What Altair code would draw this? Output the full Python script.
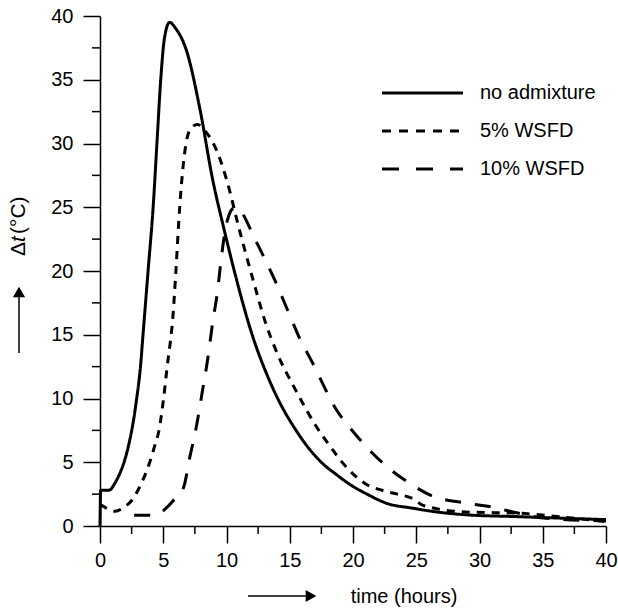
import altair as alt
import pandas as pd

# ---- data ----
series_names = ["no admixture", "5% WSFD", "10% WSFD"]

t_none = [0.0, 0.05, 0.7, 1.2, 1.6, 1.9, 2.3, 2.6, 2.9, 3.2, 3.4, 3.8, 4.2, 4.5, 4.8,
          5.1, 5.5, 6.0, 6.8, 7.9, 8.9, 9.8, 10.8, 11.9, 13.4, 14.2, 15.5, 16.5, 17.6,
          18.6, 19.7, 21.3, 22.6, 24.7, 26.8, 29.4, 32.5, 35.4, 40.0]
v_none = [0.0, 2.8, 2.8, 3.4, 4.2, 5.0, 6.5, 8.0, 10.0, 12.5, 15.0, 20.0, 25.0, 30.0, 35.0,
          38.3, 39.5, 39.0, 37.4, 32.7, 27.2, 23.3, 19.3, 15.4, 11.4, 9.7, 7.5, 6.1, 4.9,
          4.1, 3.3, 2.4, 1.8, 1.4, 1.08, 0.85, 0.75, 0.65, 0.5]

t_5 = [0.0, 0.5, 1.2, 1.8, 2.5, 3.2, 3.9, 4.3, 4.7, 5.0, 5.3, 5.8, 6.0, 6.3, 6.8, 7.2,
       7.7, 8.3, 9.2, 10.0, 11.0, 12.1, 13.1, 13.9, 15.5, 17.1, 18.3, 19.4, 21.0, 22.3,
       23.5, 24.6, 25.6, 28.9, 33.2, 36.5, 40.0]
v_5 = [1.7, 1.4, 1.15, 1.4, 2.0, 3.2, 4.9, 6.2, 7.7, 9.8, 12.4, 16.9, 20.0, 25.0, 30.0, 31.2,
       31.5, 31.0, 29.5, 27.2, 23.3, 19.3, 15.9, 13.8, 10.6, 7.8, 6.1, 4.7, 3.3, 2.8,
       2.5, 2.2, 1.6, 1.1, 1.0, 0.7, 0.35]

t_10 = [2.7, 4.4, 5.0, 5.8, 6.6, 7.1, 7.6, 8.1, 8.5, 8.9, 9.3, 9.6, 9.9, 10.2, 10.5,
        10.8, 11.2, 12.2, 13.1, 13.9, 14.8, 15.7, 16.8, 18.7, 20.1, 21.5, 23.0, 24.4,
        26.4, 28.6, 30.9, 33.1, 35.3, 40.0]
v_10 = [0.85, 0.85, 1.2, 2.0, 3.0, 5.4, 7.7, 10.6, 13.0, 15.9, 18.5, 21.1, 23.2, 24.4, 24.9,
        25.0, 24.6, 22.6, 20.8, 19.1, 17.0, 14.9, 12.8, 9.1, 7.3, 5.75, 4.4, 3.4,
        2.3, 1.85, 1.5, 1.0, 0.6, 0.4]

x_major = [0, 5, 10, 15, 20, 25, 30, 35, 40]
y_major = [0, 5, 10, 15, 20, 25, 30, 35, 40]
x_minor = [2.5, 7.5, 12.5, 17.5, 22.5, 27.5, 32.5, 37.5]
y_minor = [2.5, 7.5, 12.5, 17.5, 22.5, 27.5, 32.5, 37.5]

# ---- build table ----
rows = []
for name, ts, vs in zip(series_names, [t_none, t_5, t_10], [v_none, v_5, v_10]):
    for i, (t, v) in enumerate(zip(ts, vs)):
        rows.append({"series": name, "t": t, "v": v, "i": i})
df = pd.DataFrame(rows)

W, H = 506, 510
FONT = "Liberation Sans"
dash_plot = [[1, 0], [8, 7], [16, 14]]
dash_legend = [[1, 0], [9, 8], [17, 17]]

xs = alt.Scale(domain=[0, 40], nice=False, zero=False)
ys = alt.Scale(domain=[0, 40], nice=False, zero=False)

axis_common = dict(
    title=None, grid=False, domainColor="black", domainWidth=1.5,
    tickColor="black", tickWidth=1.5, tickSize=17, labelFontSize=20,
    labelColor="black", labelFont=FONT, labelFlush=False,
)
x_axis = alt.Axis(values=x_major, labelPadding=7, **axis_common)
y_axis = alt.Axis(values=y_major, labelPadding=10, **axis_common)

lines = alt.Chart(df).mark_line(color="black", strokeWidth=3, interpolate="monotone").encode(
    x=alt.X("t:Q", scale=xs, axis=x_axis),
    y=alt.Y("v:Q", scale=ys, axis=y_axis),
    strokeDash=alt.StrokeDash("series:N",
                              scale=alt.Scale(domain=series_names, range=dash_plot),
                              legend=None),
    detail="series:N",
    order=alt.Order("i:Q"),
)

minor_y = alt.Chart(pd.DataFrame({"v": y_minor})).mark_rule(color="black", strokeWidth=1.5).encode(
    y=alt.Y("v:Q", scale=ys, axis=y_axis), x=alt.value(-8), x2=alt.value(0))
minor_x = alt.Chart(pd.DataFrame({"t": x_minor})).mark_rule(color="black", strokeWidth=1.5).encode(
    x=alt.X("t:Q", scale=xs, axis=x_axis), y=alt.value(H), y2=alt.value(H + 8))

one = pd.DataFrame({"a": [0]})

# legend (manual)
legend_layers = []
leg_y = [77, 115, 153]
for name, dash, yy in zip(series_names, dash_legend, leg_y):
    legend_layers.append(
        alt.Chart(pd.DataFrame({"series": [name]})).mark_rule(
            color="black", strokeWidth=3, strokeDash=dash).encode(
            x=alt.value(282), x2=alt.value(363), y=alt.value(yy)))
    legend_layers.append(
        alt.Chart(pd.DataFrame({"series": [name]})).mark_text(
            align="left", baseline="middle", fontSize=20, font=FONT, color="black").encode(
            text="series:N", x=alt.value(380), y=alt.value(yy)))

# axis titles and arrows
ytitle_parts = [
    alt.Chart(one).mark_text(text="Δ", angle=270, align="left", baseline="middle",
                             fontSize=21, font=FONT, color="black").encode(
        x=alt.value(-81), y=alt.value(240)),
    alt.Chart(one).mark_text(text="t", angle=270, align="left", baseline="middle",
                             fontSize=21, font=FONT, fontStyle="italic", color="black").encode(
        x=alt.value(-81), y=alt.value(226)),
    alt.Chart(one).mark_text(text="(°C)", angle=270, align="left", baseline="middle",
                             fontSize=21, font=FONT, color="black").encode(
        x=alt.value(-81), y=alt.value(218)),
]
up_line = alt.Chart(one).mark_rule(color="black", strokeWidth=1.5).encode(
    x=alt.value(-81), y=alt.value(279), y2=alt.value(337))
up_head = alt.Chart(one).mark_point(shape="triangle-up", filled=True, color="black",
                                    size=150, opacity=1).encode(
    x=alt.value(-81), y=alt.value(276))
right_line = alt.Chart(one).mark_rule(color="black", strokeWidth=1.5).encode(
    x=alt.value(148), x2=alt.value(208), y=alt.value(580))
right_head = alt.Chart(one).mark_point(shape="triangle-right", filled=True, color="black",
                                       size=150, opacity=1).encode(
    x=alt.value(211), y=alt.value(580))
xtitle = alt.Chart(one).mark_text(text="time (hours)", align="center", baseline="middle",
                                  fontSize=20, font=FONT, color="black").encode(
    x=alt.value(304), y=alt.value(581))

chart = alt.layer(
    lines, minor_y, minor_x, *legend_layers, *ytitle_parts,
    up_line, up_head, right_line, right_head, xtitle
).properties(
    width=W, height=H,
    autosize=alt.AutoSizeParams(type="none"),
    padding={"left": 100, "top": 16, "right": 12, "bottom": 84},
    background="white",
).configure_view(stroke=None)

chart.save("out.html", embed_options={"renderer": "svg", "actions": False})
